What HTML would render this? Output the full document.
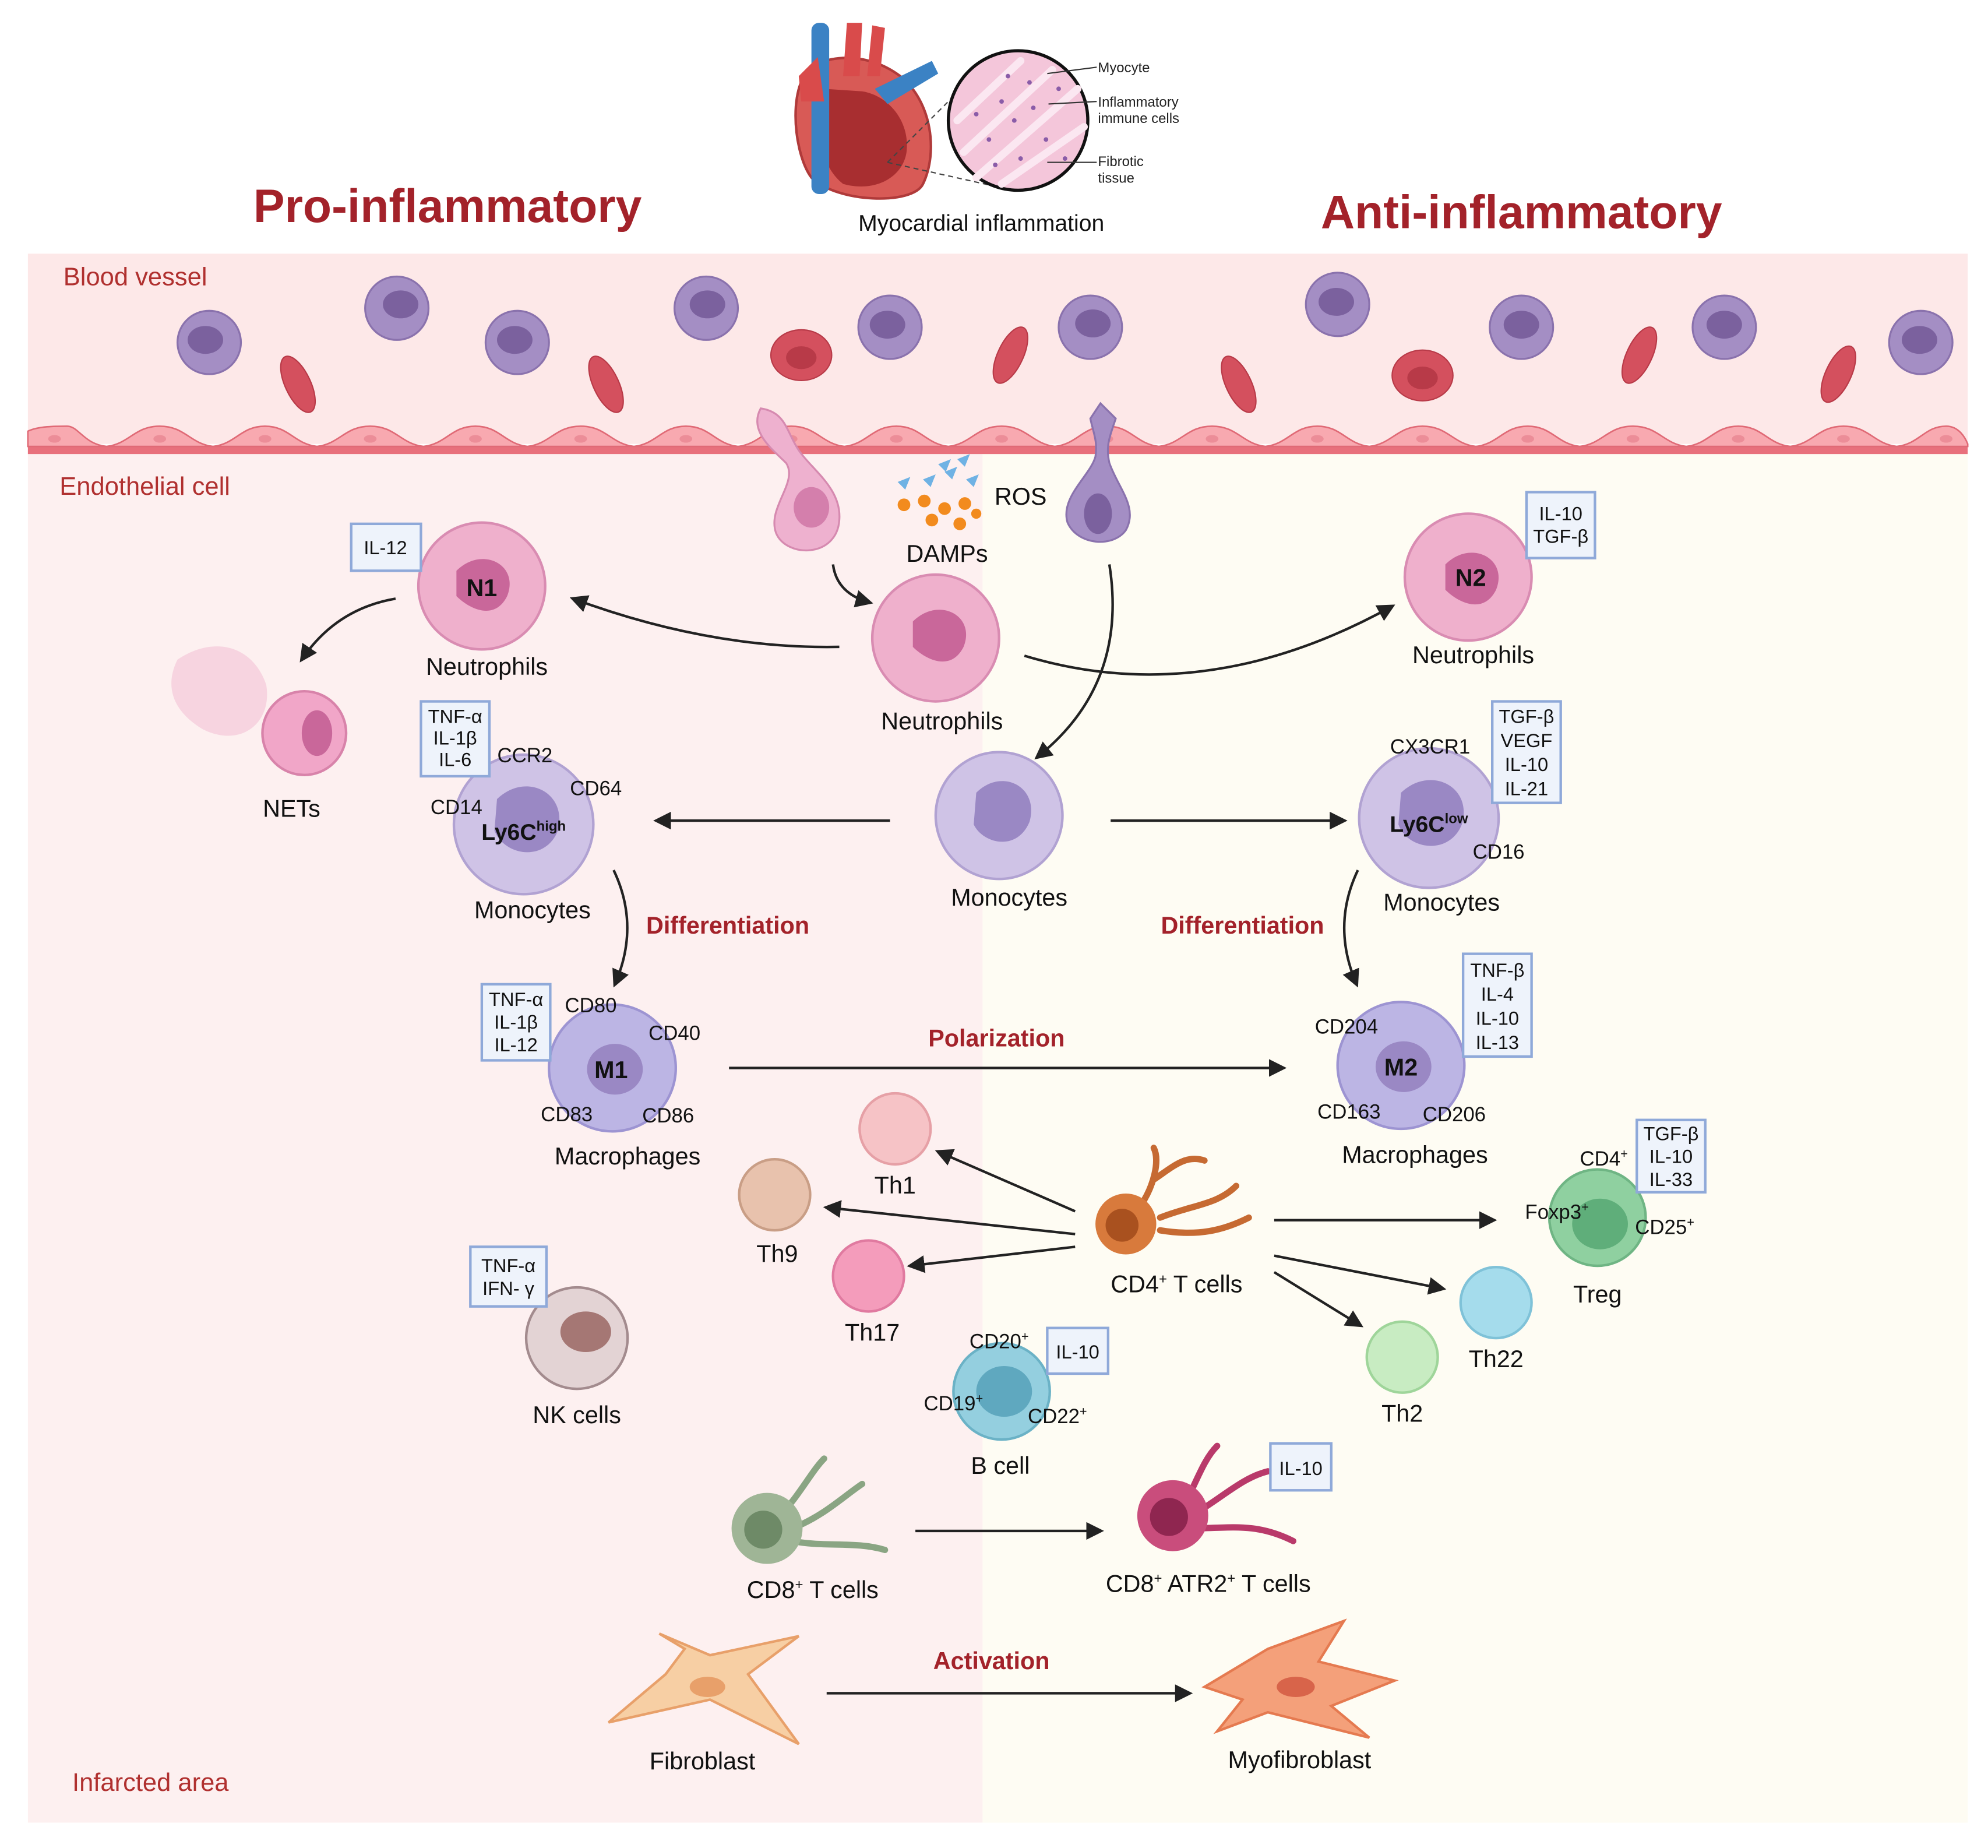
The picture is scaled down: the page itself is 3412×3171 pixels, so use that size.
<!DOCTYPE html>
<html><head><meta charset="utf-8"><style>html,body{margin:0;padding:0;background:#fff}svg{display:block}</style></head><body>
<svg width="3412" height="3171" viewBox="0 0 1568 1457" preserveAspectRatio="none" xmlns="http://www.w3.org/2000/svg" font-family="Liberation Sans, sans-serif">
<defs>
<marker id="ah" viewBox="0 0 10 10" refX="8" refY="5" markerWidth="7" markerHeight="7" orient="auto"><path d="M0,0 L10,5 L0,10 z" fill="#222"/></marker>
</defs>
<rect width="1568" height="1457" fill="#fff"/>
<rect x="22" y="200" width="1530" height="150" fill="#fde8e8"/>
<rect x="22" y="358" width="753" height="1079" fill="#fdf0f0"/>
<rect x="775" y="358" width="777" height="1079" fill="#fefcf3"/>
<rect x="22" y="352" width="1530" height="6" fill="#e8707c"/>
<g fill="#f8a9b0" stroke="#e06a76" stroke-width="1.2">
<path d="M22 352 L22 340 C30 336 44 336 53 336 C62 336 66 350 84 352 C102 350 106 336 126 336 C146 336 150 350 168 352 C186 350 190 336 209 336 C228 336 232 350 250 352 C268 350 272 336 292 336 C312 336 316 350 334 352 C352 350 356 336 375 336 C394 336 398 350 416 352 C434 350 438 336 458 336 C478 336 482 350 500 352 C518 350 522 336 541 336 C560 336 564 350 582 352 C600 350 604 336 624 336 C644 336 648 350 666 352 C684 350 688 336 707 336 C726 336 730 350 748 352 C766 350 770 336 790 336 C810 336 814 350 832 352 C850 350 854 336 873 336 C892 336 896 350 914 352 C932 350 936 336 956 336 C976 336 980 350 998 352 C1016 350 1020 336 1039 336 C1058 336 1062 350 1080 352 C1098 350 1102 336 1122 336 C1142 336 1146 350 1164 352 C1182 350 1186 336 1205 336 C1224 336 1228 350 1246 352 C1264 350 1268 336 1288 336 C1308 336 1312 350 1330 352 C1348 350 1352 336 1371 336 C1390 336 1394 350 1412 352 C1430 350 1434 336 1454 336 C1474 336 1478 350 1496 352 C1514 350 1518 336 1535 336 C1545 336 1550 345 1552 350 L1552 352 Z"/>
</g>
<g fill="#ec8d98">
<ellipse cx="43" cy="346" rx="5" ry="3"/><ellipse cx="126" cy="346" rx="5" ry="3"/><ellipse cx="209" cy="346" rx="5" ry="3"/><ellipse cx="292" cy="346" rx="5" ry="3"/><ellipse cx="375" cy="346" rx="5" ry="3"/><ellipse cx="458" cy="346" rx="5" ry="3"/><ellipse cx="541" cy="346" rx="5" ry="3"/><ellipse cx="624" cy="346" rx="5" ry="3"/><ellipse cx="707" cy="346" rx="5" ry="3"/><ellipse cx="790" cy="346" rx="5" ry="3"/><ellipse cx="873" cy="346" rx="5" ry="3"/><ellipse cx="956" cy="346" rx="5" ry="3"/><ellipse cx="1039" cy="346" rx="5" ry="3"/><ellipse cx="1122" cy="346" rx="5" ry="3"/><ellipse cx="1205" cy="346" rx="5" ry="3"/><ellipse cx="1288" cy="346" rx="5" ry="3"/><ellipse cx="1371" cy="346" rx="5" ry="3"/><ellipse cx="1454" cy="346" rx="5" ry="3"/><ellipse cx="1535" cy="346" rx="5" ry="3"/>
</g>
<g fill="#a48ec4" stroke="#8a72ad" stroke-width="1.5">
<circle cx="165" cy="270" r="25"/><circle cx="313" cy="243" r="25"/><circle cx="408" cy="270" r="25"/><circle cx="557" cy="243" r="25"/><circle cx="702" cy="258" r="25"/><circle cx="860" cy="258" r="25"/><circle cx="1055" cy="240" r="25"/><circle cx="1200" cy="258" r="25"/><circle cx="1360" cy="258" r="25"/><circle cx="1515" cy="270" r="25"/>
</g>
<g fill="#7b619e">
<ellipse cx="162" cy="268" rx="14" ry="11"/><ellipse cx="316" cy="240" rx="14" ry="11"/><ellipse cx="406" cy="268" rx="14" ry="11"/><ellipse cx="558" cy="240" rx="14" ry="11"/><ellipse cx="700" cy="256" rx="14" ry="11"/><ellipse cx="862" cy="255" rx="14" ry="11"/><ellipse cx="1054" cy="238" rx="14" ry="11"/><ellipse cx="1200" cy="256" rx="14" ry="11"/><ellipse cx="1360" cy="256" rx="14" ry="11"/><ellipse cx="1514" cy="268" rx="14" ry="11"/>
</g>
<g fill="#d4505e" stroke="#b83a48" stroke-width="1">
<ellipse cx="235" cy="303" rx="10" ry="24" transform="rotate(-25 235 303)"/>
<ellipse cx="478" cy="303" rx="10" ry="24" transform="rotate(-25 478 303)"/>
<ellipse cx="632" cy="280" rx="24" ry="20"/>
<ellipse cx="797" cy="280" rx="10" ry="24" transform="rotate(25 797 280)"/>
<ellipse cx="977" cy="303" rx="10" ry="24" transform="rotate(-25 977 303)"/>
<ellipse cx="1122" cy="296" rx="24" ry="20"/>
<ellipse cx="1293" cy="280" rx="10" ry="24" transform="rotate(25 1293 280)"/>
<ellipse cx="1450" cy="295" rx="10" ry="24" transform="rotate(25 1450 295)"/>
</g>
<g fill="#b83a48"><ellipse cx="632" cy="282" rx="12" ry="9"/><ellipse cx="1122" cy="298" rx="12" ry="9"/></g>
<path d="M600 322 C590 340 610 355 620 365 C630 380 605 400 612 420 C620 440 660 440 662 410 C664 385 640 370 630 355 C620 340 620 325 600 322 Z" fill="#eeb1cf" stroke="#d68ab0" stroke-width="1.5"/>
<ellipse cx="640" cy="400" rx="14" ry="16" fill="#d47fac"/>
<path d="M868 318 L880 330 C875 345 872 352 875 365 C882 385 898 400 888 418 C878 432 850 430 842 412 C836 392 860 375 864 360 C866 348 862 340 860 330 Z" fill="#a48ec4" stroke="#8a72ad" stroke-width="1.5"/>
<ellipse cx="866" cy="405" rx="11" ry="16" fill="#7b619e"/>
<g fill="#f28b1e"><circle cx="713" cy="398" r="5"/><circle cx="729" cy="395" r="5"/><circle cx="745" cy="401" r="5"/><circle cx="761" cy="397" r="5"/><circle cx="735" cy="410" r="5"/><circle cx="757" cy="413" r="5"/><circle cx="770" cy="405" r="4"/></g>
<g fill="#6fb2e4"><path d="M708 380 l10 -4 l-4 10z"/><path d="M728 378 l10 -4 l-4 10z"/><path d="M745 372 l10 -4 l-4 10z"/><path d="M762 378 l10 -4 l-4 10z"/><path d="M740 366 l10 -4 l-4 10z"/><path d="M755 362 l10 -4 l-4 10z"/></g>
<path d="M645 50 C620 60 625 120 640 140 C660 160 720 162 728 145 C740 120 735 80 710 60 C690 45 665 42 645 50 Z" fill="#d85a56" stroke="#b03a3a" stroke-width="2"/>
<path d="M650 70 C640 90 645 130 665 145 C690 152 712 140 715 120 C718 95 700 75 680 72 Z" fill="#a82e30"/>
<rect x="640" y="18" width="14" height="135" rx="6" fill="#3b82c4"/>
<path d="M665 60 L668 18 L680 18 L678 60 Z M684 60 L688 20 L698 22 L694 60Z" fill="#d94b4b"/>
<path d="M690 70 L735 48 L740 58 L700 82 Z" fill="#3b82c4"/>
<path d="M630 60 L645 45 L650 80 L632 80 Z" fill="#d94b4b"/>
<line x1="700" y1="128" x2="760" y2="68" stroke="#444" stroke-dasharray="4 3"/>
<line x1="700" y1="128" x2="790" y2="148" stroke="#444" stroke-dasharray="4 3"/>
<circle cx="803" cy="95" r="55" fill="#f4c6da" stroke="#111" stroke-width="2.5"/>
<g stroke="#fbe7f1" stroke-width="6" stroke-linecap="round"><line x1="760" y1="120" x2="830" y2="55"/><line x1="770" y1="140" x2="850" y2="70"/><line x1="755" y1="95" x2="805" y2="48"/><line x1="790" y1="145" x2="855" y2="100"/></g>
<g fill="#8a5ca8"><circle cx="790" cy="80" r="1.8"/><circle cx="800" cy="95" r="1.8"/><circle cx="815" cy="85" r="1.8"/><circle cx="780" cy="110" r="1.8"/><circle cx="825" cy="110" r="1.8"/><circle cx="805" cy="125" r="1.8"/><circle cx="835" cy="70" r="1.8"/><circle cx="770" cy="90" r="1.8"/><circle cx="795" cy="60" r="1.8"/><circle cx="840" cy="125" r="1.8"/><circle cx="812" cy="65" r="1.8"/><circle cx="785" cy="130" r="1.8"/></g>
<g stroke="#333" stroke-width="1"><line x1="826" y1="58" x2="865" y2="53"/><line x1="827" y1="82" x2="865" y2="80"/><line x1="826" y1="128" x2="865" y2="128"/></g>
<g font-size="11" fill="#222"><text x="866" y="57">Myocyte</text><text x="866" y="84">Inflammatory</text><text x="866" y="97">immune cells</text><text x="866" y="131">Fibrotic</text><text x="866" y="144">tissue</text></g>
<text x="774" y="182" font-size="18" fill="#111" text-anchor="middle">Myocardial inflammation</text>
<text x="353" y="175" font-size="37" font-weight="bold" fill="#a3222a" text-anchor="middle">Pro-inflammatory</text>
<text x="1200" y="180" font-size="37" font-weight="bold" fill="#a3222a" text-anchor="middle">Anti-inflammatory</text>
<g font-size="20" fill="#b0302f"><text x="50" y="225">Blood vessel</text><text x="47" y="390">Endothelial cell</text><text x="57" y="1412">Infarcted  area</text></g>
<g stroke-width="2">
<circle cx="380" cy="462" r="50" fill="#efb0cc" stroke="#d98cb2"/>
<circle cx="738" cy="503" r="50" fill="#efb0cc" stroke="#d98cb2"/>
<circle cx="1158" cy="455" r="50" fill="#efb0cc" stroke="#d98cb2"/>
<circle cx="788" cy="643" r="50" fill="#cfc3e6" stroke="#b1a2d2"/>
<circle cx="413" cy="650" r="55" fill="#cfc3e6" stroke="#b1a2d2"/>
<circle cx="1127" cy="645" r="55" fill="#cfc3e6" stroke="#b1a2d2"/>
<circle cx="483" cy="842" r="50" fill="#bcb5e4" stroke="#9d94d2"/>
<circle cx="1105" cy="840" r="50" fill="#bcb5e4" stroke="#9d94d2"/>
<circle cx="706" cy="890" r="28" fill="#f6c3c6" stroke="#e6a0a6"/>
<circle cx="611" cy="942" r="28" fill="#e8c2ad" stroke="#c99e86"/>
<circle cx="685" cy="1006" r="28" fill="#f49cbb" stroke="#e07aa0"/>
<circle cx="1260" cy="960" r="38" fill="#8fd0a0" stroke="#6fb584"/>
<circle cx="1180" cy="1027" r="28" fill="#a5dcec" stroke="#7fc2d8"/>
<circle cx="1106" cy="1070" r="28" fill="#c8ecc2" stroke="#9fd59a"/>
<circle cx="790" cy="1097" r="38" fill="#94cfdf" stroke="#6bb2c6"/>
<circle cx="455" cy="1055" r="40" fill="#e3d3d4" stroke="#a38b8e"/>
<circle cx="240" cy="578" r="33" fill="#f1a6c8" stroke="#d883aa"/>
</g>
<path d="M140 520 C170 500 200 510 210 540 C215 570 190 590 160 575 C135 560 130 540 140 520 Z" fill="#f4c8d8" opacity="0.7"/>
<g fill="#c9679a"><path d="M360 450 C380 430 410 445 400 470 C390 490 370 480 360 470 Z"/><path d="M720 490 C740 470 770 485 760 510 C750 530 730 520 720 510 Z"/><path d="M1140 445 C1160 425 1190 440 1180 465 C1170 485 1150 475 1140 465 Z"/><ellipse cx="250" cy="578" rx="12" ry="18"/></g>
<g fill="#9a88c4"><path d="M770 625 C790 605 820 620 812 648 C802 672 775 665 768 650 Z"/><path d="M392 630 C415 608 448 625 440 655 C430 680 398 675 390 655 Z"/><path d="M1105 625 C1128 603 1162 620 1153 650 C1143 675 1110 670 1103 650 Z"/><ellipse cx="485" cy="843" rx="22" ry="20"/><ellipse cx="1107" cy="841" rx="22" ry="20"/></g>
<ellipse cx="1262" cy="965" rx="22" ry="20" fill="#5fae7a"/>
<ellipse cx="792" cy="1097" rx="22" ry="20" fill="#5fa8bf"/>
<ellipse cx="462" cy="1050" rx="20" ry="16" fill="#a57774"/>
<g stroke="#c66a32" stroke-width="5" fill="none" stroke-linecap="round"><path d="M900 950 C910 935 915 915 910 905 M910 930 C925 920 935 910 950 915 M915 960 C940 950 960 950 975 935 M915 970 C945 975 965 970 985 960"/></g>
<circle cx="888" cy="965" r="24" fill="#d87a3c"/><circle cx="885" cy="966" r="13" fill="#a9511f"/>
<g stroke="#8aa583" stroke-width="5" fill="none" stroke-linecap="round"><path d="M615 1195 C630 1180 640 1160 650 1150 M625 1205 C650 1195 665 1180 680 1170 M625 1215 C650 1220 675 1215 698 1222"/></g>
<circle cx="605" cy="1205" r="28" fill="#9fb596"/><circle cx="602" cy="1206" r="15" fill="#6e8a67"/>
<g stroke="#b93a6a" stroke-width="5" fill="none" stroke-linecap="round"><path d="M935 1185 C945 1165 950 1150 960 1140 M940 1195 C965 1180 980 1165 1000 1160 M940 1205 C970 1205 990 1200 1020 1215"/></g>
<circle cx="925" cy="1195" r="28" fill="#c94d7c"/><circle cx="922" cy="1196" r="15" fill="#8f2650"/>
<path d="M480 1358 L525 1320 L540 1300 L520 1288 L560 1305 L630 1290 L590 1320 L630 1375 L560 1340 L480 1358 Z" fill="#f7cfa4" stroke="#e8a06a" stroke-width="2"/>
<ellipse cx="558" cy="1330" rx="14" ry="8" fill="#e8a06a"/>
<path d="M950 1330 L1000 1300 L1060 1278 L1040 1310 L1100 1325 L1050 1345 L1080 1370 L1000 1350 L960 1365 L980 1340 Z" fill="#f4a07a" stroke="#e57a50" stroke-width="2"/>
<ellipse cx="1022" cy="1330" rx="15" ry="8" fill="#d8644a"/>
<g font-weight="bold" fill="#111" text-anchor="middle"><text x="380" y="470" font-size="19">N1</text><text x="1160" y="462" font-size="19">N2</text><text x="482" y="850" font-size="19">M1</text><text x="1105" y="848" font-size="19">M2</text><text x="413" y="662" font-size="18">Ly6C<tspan font-size="11" dy="-7">high</tspan></text><text x="1127" y="656" font-size="18">Ly6C<tspan font-size="11" dy="-7">low</tspan></text></g>
<g fill="#eef3fb" stroke="#8fa9d9" stroke-width="2">
<rect x="277" y="413" width="55" height="37"/><rect x="1204" y="388" width="54" height="52"/><rect x="332" y="553" width="54" height="59"/><rect x="1177" y="553" width="54" height="80"/><rect x="380" y="776" width="54" height="60"/><rect x="1154" y="752" width="54" height="81"/><rect x="1291" y="883" width="54" height="57"/><rect x="371" y="983" width="60" height="47"/><rect x="826" y="1047" width="48" height="36"/><rect x="1002" y="1138" width="48" height="37"/>
</g>
<g font-size="15" fill="#111" text-anchor="middle">
<text x="304" y="437">IL-12</text>
<text x="1231" y="410">IL-10</text><text x="1231" y="428">TGF-β</text>
<text x="359" y="570">TNF-α</text><text x="359" y="587">IL-1β</text><text x="359" y="604">IL-6</text>
<text x="1204" y="570">TGF-β</text><text x="1204" y="589">VEGF</text><text x="1204" y="608">IL-10</text><text x="1204" y="627">IL-21</text>
<text x="407" y="793">TNF-α</text><text x="407" y="811">IL-1β</text><text x="407" y="829">IL-12</text>
<text x="1181" y="770">TNF-β</text><text x="1181" y="789">IL-4</text><text x="1181" y="808">IL-10</text><text x="1181" y="827">IL-13</text>
<text x="1318" y="899">TGF-β</text><text x="1318" y="917">IL-10</text><text x="1318" y="935">IL-33</text>
<text x="401" y="1003">TNF-α</text><text x="401" y="1021">IFN- γ</text>
<text x="850" y="1071">IL-10</text><text x="1026" y="1163">IL-10</text>
</g>
<g font-size="16" fill="#111" text-anchor="middle">
<text x="414" y="601">CCR2</text><text x="470" y="627">CD64</text><text x="360" y="642">CD14</text>
<text x="1128" y="594">CX3CR1</text><text x="1182" y="677">CD16</text>
<text x="466" y="798">CD80</text><text x="532" y="820">CD40</text><text x="447" y="884">CD83</text><text x="527" y="885">CD86</text>
<text x="1062" y="815">CD204</text><text x="1064" y="882">CD163</text><text x="1147" y="884">CD206</text>
<text x="1265" y="919">CD4<tspan font-size="10" dy="-6">+</tspan></text><text x="1228" y="961">Foxp3<tspan font-size="10" dy="-6">+</tspan></text><text x="1313" y="973">CD25<tspan font-size="10" dy="-6">+</tspan></text>
<text x="788" y="1063">CD20<tspan font-size="10" dy="-6">+</tspan></text><text x="752" y="1112">CD19<tspan font-size="10" dy="-6">+</tspan></text><text x="834" y="1122">CD22<tspan font-size="10" dy="-6">+</tspan></text>
</g>
<g font-size="19" fill="#111" text-anchor="middle">
<text x="805" y="398">ROS</text><text x="747" y="443">DAMPs</text>
<text x="384" y="532">Neutrophils</text><text x="743" y="575">Neutrophils</text><text x="1162" y="523">Neutrophils</text>
<text x="230" y="644">NETs</text>
<text x="796" y="714">Monocytes</text><text x="420" y="724">Monocytes</text><text x="1137" y="718">Monocytes</text>
<text x="495" y="918">Macrophages</text><text x="1116" y="917">Macrophages</text>
<text x="706" y="941">Th1</text><text x="613" y="995">Th9</text><text x="688" y="1057">Th17</text>
<text x="928" y="1019">CD4<tspan font-size="11" dy="-7">+</tspan><tspan dy="7"> T cells</tspan></text>
<text x="1260" y="1027">Treg</text><text x="1180" y="1078">Th22</text><text x="1106" y="1121">Th2</text>
<text x="455" y="1122">NK cells</text><text x="789" y="1162">B cell</text>
<text x="641" y="1260">CD8<tspan font-size="11" dy="-7">+</tspan><tspan dy="7"> T cells</tspan></text>
<text x="953" y="1255">CD8<tspan font-size="11" dy="-7">+</tspan><tspan dy="7"> ATR2</tspan><tspan font-size="11" dy="-7">+</tspan><tspan dy="7"> T cells</tspan></text>
<text x="554" y="1395">Fibroblast</text><text x="1025" y="1394">Myofibroblast</text>
</g>
<g font-size="19" font-weight="bold" fill="#a3222a" text-anchor="middle">
<text x="574" y="736">Differentiation</text><text x="980" y="736">Differentiation</text><text x="786" y="825">Polarization</text><text x="782" y="1316">Activation</text>
</g>
<g stroke="#222" stroke-width="2" fill="none" marker-end="url(#ah)">
<path d="M662 510 Q560 512 452 472"/>
<path d="M312 472 Q265 480 238 520"/>
<path d="M808 517 Q950 560 1098 478"/>
<path d="M657 445 Q660 468 686 475"/>
<path d="M875 445 Q890 540 818 597"/>
<path d="M702 647 L518 647"/>
<path d="M876 647 L1060 647"/>
<path d="M484 686 Q505 730 485 776"/>
<path d="M1071 686 Q1050 730 1070 776"/>
<path d="M575 842 L1012 842"/>
<path d="M848 955 L740 908"/>
<path d="M848 973 L652 952"/>
<path d="M848 983 L718 998"/>
<path d="M1005 962 L1178 962"/>
<path d="M1005 990 L1138 1016"/>
<path d="M1005 1003 L1073 1045"/>
<path d="M722 1207 L868 1207"/>
<path d="M652 1335 L938 1335"/>
</g>
</svg>
</body></html>
